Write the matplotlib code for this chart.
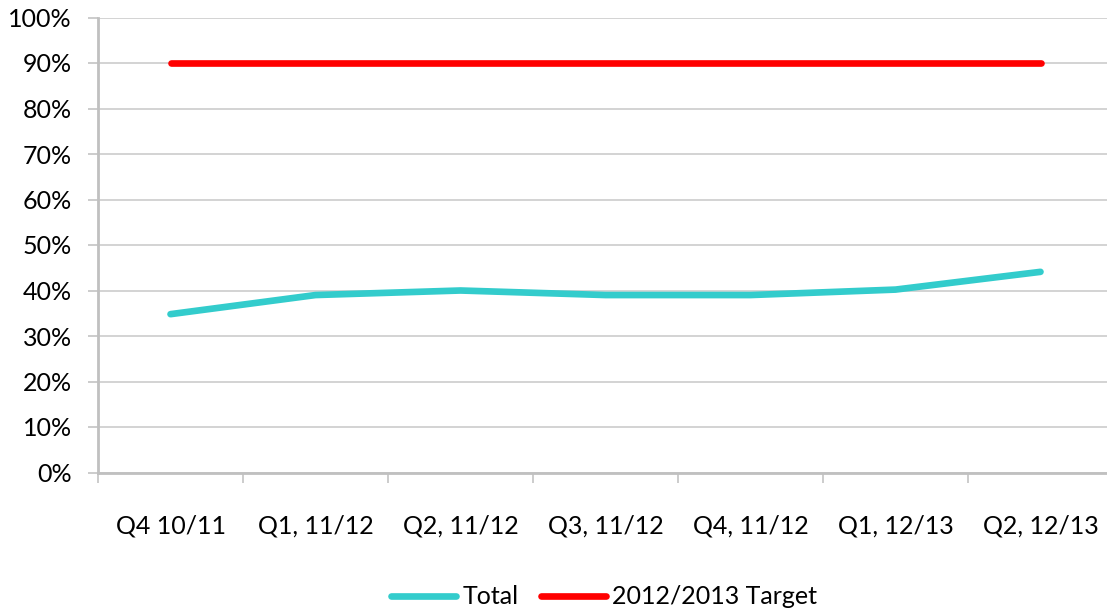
import matplotlib.pyplot as plt
from matplotlib.ticker import FixedLocator, PercentFormatter

plt.rcParams['font.family'] = ['Lato', 'DejaVu Sans']

quarters = ['Q4 10/11', 'Q1, 11/12', 'Q2, 11/12', 'Q3, 11/12',
            'Q4, 11/12', 'Q1, 12/13', 'Q2, 12/13']
total = [34.8, 39.0, 40.0, 39.0, 39.0, 40.2, 44.1]
target = [90, 90, 90, 90, 90, 90, 90]

fig = plt.figure(figsize=(11.07, 6.11), dpi=100)
# plot area runs a little past the right edge, like the original
ax = fig.add_axes([98 / 1107, 1 - 472.5 / 611, 1015 / 1107, 455 / 611])

x = range(len(quarters))
ax.plot(x, total, color='#33CCCC', lw=4.8, solid_capstyle='round',
        solid_joinstyle='round', label='Total')
ax.plot(x, target, color='#FF0000', lw=4.8, solid_capstyle='round',
        label='2012/2013 Target')

ax.set_xlim(-0.5, len(quarters) - 0.5)
ax.set_ylim(0, 100)
ax.set_yticks(range(0, 101, 10))
ax.yaxis.set_major_formatter(PercentFormatter(decimals=0))
ax.grid(axis='y', color='#d0d0d0', lw=1.3)
ax.set_axisbelow(True)

ax.set_xticks(list(x))
ax.set_xticklabels(quarters)
ax.xaxis.set_minor_locator(FixedLocator([i - 0.5 for i in range(len(quarters) + 1)]))
ax.tick_params(axis='x', which='major', length=0, pad=30, labelsize=18)
ax.tick_params(axis='x', which='minor', length=7, width=1.3, color='#c8c8c8')
ax.tick_params(axis='y', length=7, width=1.3, color='#c8c8c8', pad=12,
               labelsize=18)

for side in ['top', 'right']:
    ax.spines[side].set_visible(False)
for side in ['left', 'bottom']:
    ax.spines[side].set_color('#c0c0c0')
    ax.spines[side].set_linewidth(2)

fig.legend(loc='center', bbox_to_anchor=(604 / 1107, 1 - 597 / 611),
           ncol=2, frameon=False, fontsize=18, handlelength=2.6,
           handletextpad=0.25, columnspacing=0.9, borderpad=0)

fig.savefig('out.png', dpi=100)
